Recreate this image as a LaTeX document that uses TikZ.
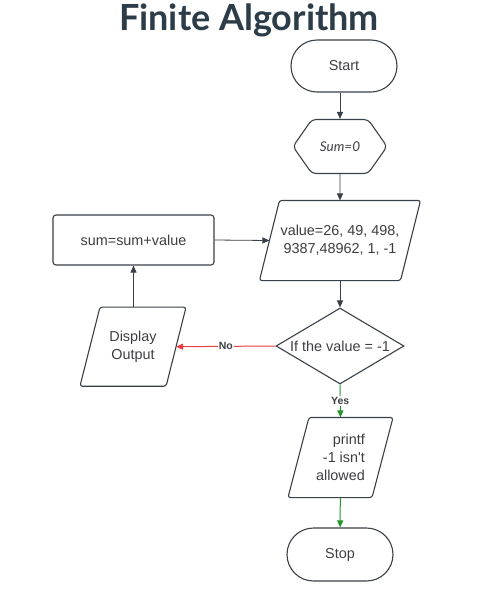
\documentclass[tikz,border=0pt]{standalone}
\usepackage{fontspec}
\setmainfont{Liberation Sans}
\newfontfamily\titlefont{Lato}
\usepackage{tikz}
\usetikzlibrary{arrows.meta}
\usetikzlibrary{shapes.misc, shapes.geometric, shapes.symbols}

\definecolor{linegray}{RGB}{58,64,72}
\definecolor{textgray}{RGB}{62,62,66}
\definecolor{titleblue}{RGB}{44,60,72}
\definecolor{noRed}{RGB}{236,62,62}
\definecolor{yesGreen}{RGB}{34,150,44}

\tikzset{
  box/.style={draw=linegray, line width=1.1pt, text=textgray,
    font=\fontsize{14.4}{18}\selectfont, inner sep=0pt},
  terminal/.style={box, rounded rectangle, minimum width=106pt, minimum height=52pt},
  prep/.style={box, signal, signal to=west and east, signal pointer angle=110,
    minimum width=94pt, minimum height=54pt, rounded corners=4pt},
  process/.style={box, rectangle, rounded corners=3pt, minimum width=161pt, minimum height=50pt},
  iotext/.style={box, draw=none, rectangle, minimum height=79pt, align=center},
  outline/.style={draw=linegray, line width=1.1pt, rounded corners=2.5pt},
  decision/.style={box, diamond, minimum width=128pt, minimum height=76pt},
  flow/.style={draw=linegray, line width=0.8pt, -{Triangle[length=7pt,width=6pt]}},
  tag/.style={font=\bfseries\fontsize{10.5}{12}\selectfont, text=textgray, fill=white, inner sep=1pt}
}

\begin{document}
\begin{tikzpicture}[x=1pt, y=-1pt]
  \useasboundingbox (0,0) rectangle (496,590);

  \node[font=\titlefont\bfseries\fontsize{36}{40}\selectfont, text=titleblue] (title) at (249,20) {Finite Algorithm};

  \node[terminal] (start) at (344,66) {Start};
  \node[prep, font=\titlefont\itshape\fontsize{13.5}{16}\selectfont] (init) at (340,146.5) {Sum=0};
  \node[iotext, minimum width=140pt] (input) at (340,240.5) {value=26, 49, 498,\\9387,48962, 1, -1};
  \node[process] (update) at (133.5,240) {sum=sum+value};
  \node[decision, label={[text=textgray, font=\fontsize{14.4}{18}\selectfont]center:If the value = -1}] (check) at (340,346) {};
  \node[iotext, minimum width=85pt, minimum height=78pt] (show) at (133,346.7) {Display\\Output};
  \node[iotext, minimum width=83pt, align=right] (warn) at (340.5,457.5) {printf\\-1 isn\textquotesingle t\\allowed};
  \node[terminal, minimum height=53pt] (stop) at (340,554.5) {Stop};

  % parallelogram outlines round the input/output texts
  \foreach \n/\s in {input/10, show/10, warn/10.5}
    \draw[outline] ([xshift=\s pt]\n.north west) -- ([xshift=\s pt]\n.north east)
      -- ([xshift=-\s pt]\n.south east) -- ([xshift=-\s pt]\n.south west) -- cycle;

  \draw[flow] (start.south -| init.north) -- (init.north);
  \draw[flow] (init) -- (input);
  \draw[flow] (input) -- (check);
  \draw[flow, draw=noRed, line width=1pt] (check.west) -- (show.east) node[tag, pos=0.5] {No};
  \draw[flow] (show.north -| update.south) -- (update.south);
  \draw[flow] (update.east) -- (input.west);
  \draw[flow, draw=yesGreen, line width=1pt] (check.south) -- (warn.north) node[tag, pos=0.5] {Yes};
  \draw[flow, draw=yesGreen, line width=1pt] (warn) -- (stop);
\end{tikzpicture}
\end{document}
